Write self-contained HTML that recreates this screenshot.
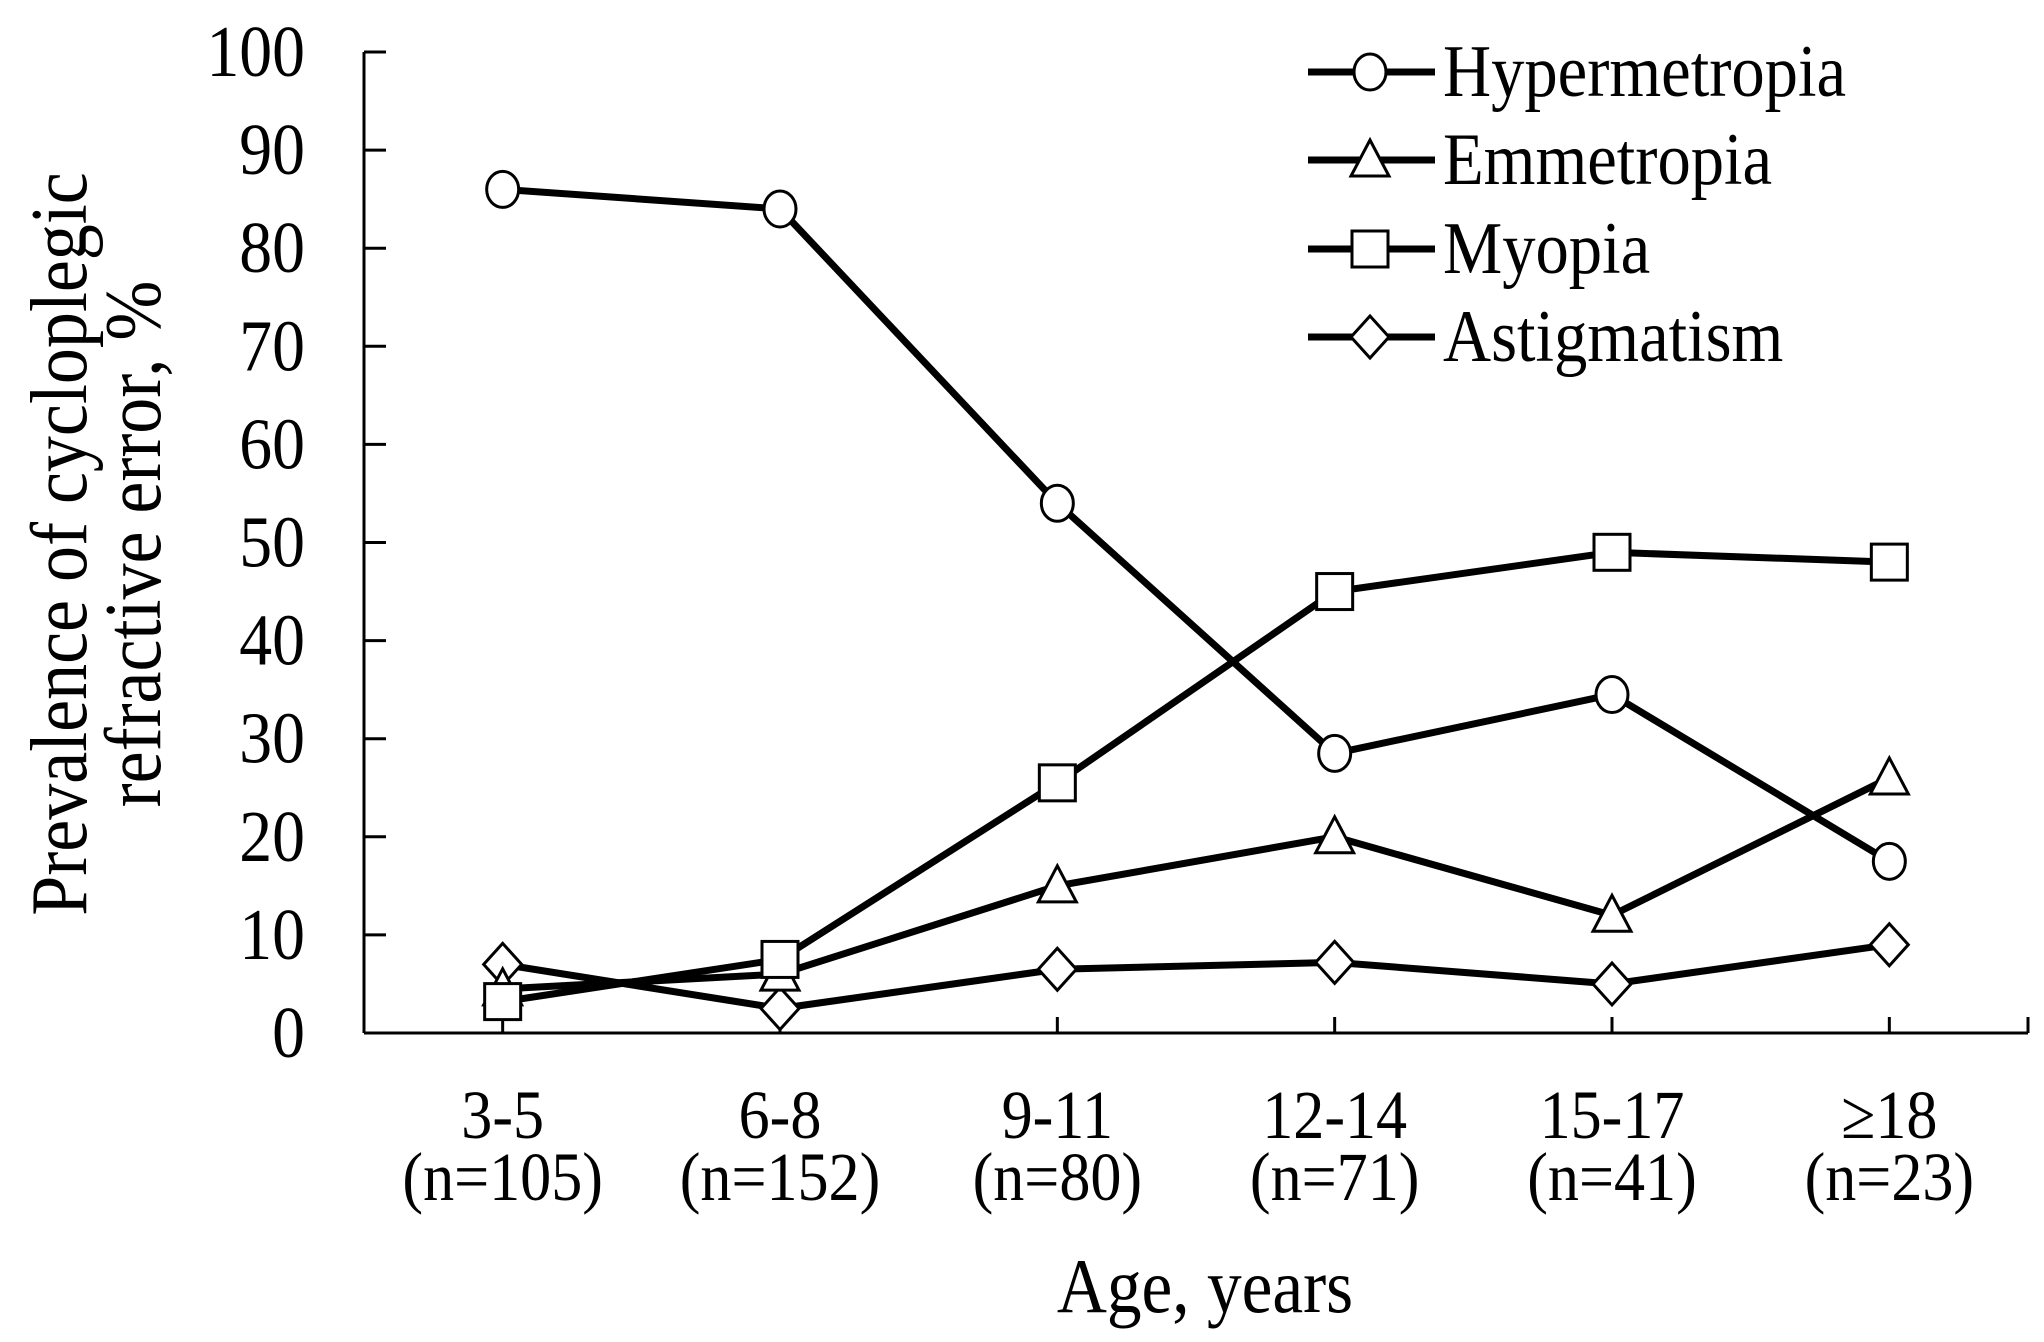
<!DOCTYPE html>
<html><head><meta charset="utf-8"><style>
html,body{margin:0;padding:0;background:#fff;}
svg{display:block;font-family:"Liberation Serif",serif;}
</style></head><body>
<svg id="chart" width="2044" height="1342" viewBox="0 0 2044 1342" xmlns="http://www.w3.org/2000/svg">
<g id="axes"></g>
<g id="series"></g>
<g id="legend"></g>
</svg>
<script>
const categories = ["3-5","6-8","9-11","12-14","15-17","\u226518"];
const sampleSizes = ["(n=105)","(n=152)","(n=80)","(n=71)","(n=41)","(n=23)"];
const yTicks = [0,10,20,30,40,50,60,70,80,90,100];
const hypermetropia = [86,84,54,28.5,34.5,17.5];
const emmetropia = [4.5,6,15,20,12,26];
const myopia = [3.2,7.5,25.5,45,49,48];
const astigmatism = [7,2.5,6.5,7.2,5,9];
const seriesNames = ["Hypermetropia","Emmetropia","Myopia","Astigmatism"];

const NS="http://www.w3.org/2000/svg";
const X0=364,X1=2028,Y0=1033,Y1=52;
const SX=0.9;
const band=(X1-X0)/categories.length;
function xs(i){return X0+band*(i+0.5);}
function ys(v){return Y0-(v/100)*(Y0-Y1);}
function mk(tag,attrs,parent,text){const e=document.createElementNS(NS,tag);for(const k in attrs)e.setAttribute(k,attrs[k]);if(text!==undefined)e.textContent=text;parent.appendChild(e);return e;}
function txt(x,y,size,anchor,str,parent,rot){
  const tr=`translate(${x},${y})`+(rot?' rotate(-90)':'')+` scale(${SX},1)`;
  return mk('text',{x:0,y:0,'font-size':size,'text-anchor':anchor,transform:tr},parent,str);
}

const axes=document.getElementById('axes');
let e=mk('line',{x1:X0,y1:Y1,x2:X0,y2:Y0,stroke:'#000','stroke-width':3},axes);


e=mk('line',{x1:X0,y1:Y0,x2:X1,y2:Y0,stroke:'#000','stroke-width':3},axes);


yTicks.forEach(v=>{
  let t=mk('line',{x1:X0,y1:ys(v),x2:X0+22,y2:ys(v),stroke:'#000','stroke-width':3},axes);
  
  
  let l=txt(305,ys(v)+24,73,'end',String(v),axes);
  
  
});
categories.forEach((c,i)=>{
  let t=mk('line',{x1:xs(i),y1:Y0,x2:xs(i),y2:Y0-16,stroke:'#000','stroke-width':3},axes);
  
  
  let l=txt(xs(i),1138,69,'middle',c,axes);
  
  
  let n=txt(xs(i),1200,69,'middle',sampleSizes[i],axes);
  
  
});
e=mk('line',{x1:X1,y1:Y0,x2:X1,y2:Y0-16,stroke:'#000','stroke-width':3},axes);


e=txt(1205,1312,77,'middle','Age, years',axes);


e=txt(86,544,80,'middle','Prevalence of cycloplegic',axes,true);


e=txt(160,544,80,'middle','refractive error, %',axes,true);



function marker(type,x,y,parent){
  const st={fill:'#fff',stroke:'#000','stroke-width':3};
  let m;
  if(type==='circle') m=mk('ellipse',Object.assign({cx:x,cy:y,rx:16,ry:18},st),parent);
  else if(type==='triangle') m=mk('polygon',Object.assign({points:`${x},${y-20} ${x+19},${y+16} ${x-19},${y+16}`},st),parent);
  else if(type==='square') m=mk('rect',Object.assign({x:x-18,y:y-18,width:36,height:36},st),parent);
  else m=mk('polygon',Object.assign({points:`${x},${y-21} ${x+19},${y} ${x},${y+21} ${x-19},${y}`},st),parent);
  return m;
}
const seriesData=[hypermetropia,emmetropia,myopia,astigmatism];
const markerTypes=['circle','triangle','square','diamond'];
const seriesSlug=['hypermetropia','emmetropia','myopia','astigmatism'];
const sg=document.getElementById('series');
const lineGroup=mk('g',{},sg);


seriesData.forEach((d,s)=>{
  const p=mk('polyline',{points:d.map((v,i)=>xs(i)+','+ys(v)).join(' '),fill:'none',stroke:'#000','stroke-width':7,'stroke-linejoin':'round'},lineGroup);
  
  
});
[3,1,2,0].forEach(s=>{
  seriesData[s].forEach((v,i)=>{
    const m=marker(markerTypes[s],xs(i),ys(v),sg);
    
    
  });
});

const lg=document.getElementById('legend');
const legendY=[72,160,249,337];
seriesNames.forEach((n,s)=>{
  const g=mk('g',{},lg);
  
  
  mk('line',{x1:1308,y1:legendY[s],x2:1435,y2:legendY[s],stroke:'#000','stroke-width':7},g);
  marker(markerTypes[s],1370,legendY[s],g);
  const t=txt(1443,legendY[s]+24,74,'start',n,g);
  
  
});
</script>
</body></html>
